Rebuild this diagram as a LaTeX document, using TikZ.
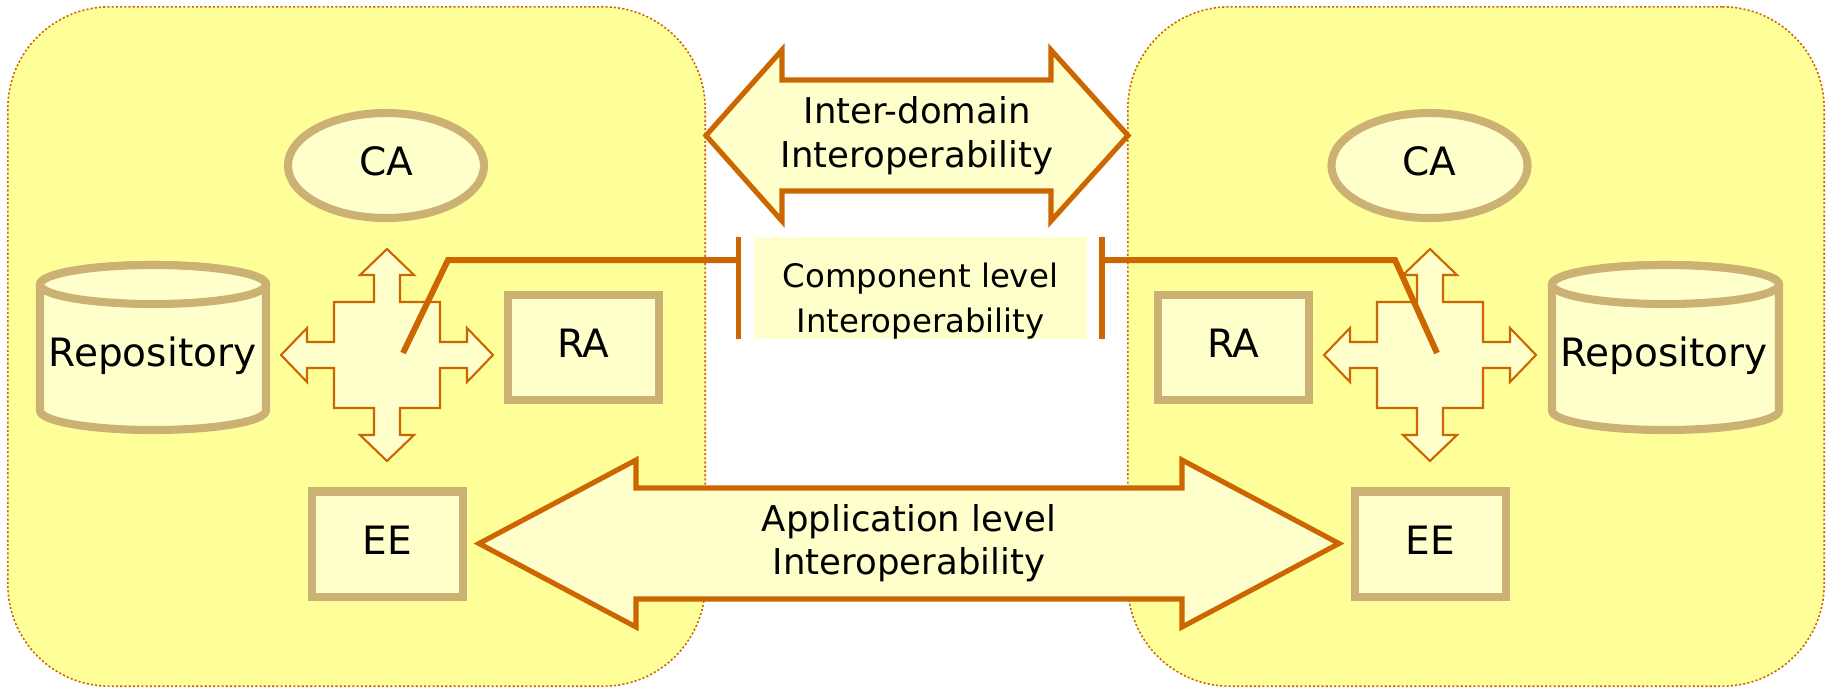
\documentclass[tikz,border=0pt]{standalone}
\usepackage{fontspec}
\setmainfont{DejaVu Sans}
\usetikzlibrary{shapes.geometric}
\definecolor{orng}{HTML}{CC6600}
\definecolor{tanb}{RGB}{204,177,116}
\definecolor{paleY}{HTML}{FFFFCC}
\definecolor{domY}{HTML}{FFFF99}
\newcommand{\fourway}[1]{%
  \begin{scope}[shift={#1}]
    \draw[crossarrow] (0,-106) -- (27,-80) -- (13,-80) -- (13,-53) -- (53,-53) -- (53,-13)
      -- (80,-13) -- (80,-27) -- (106,0) -- (80,27) -- (80,13) -- (53,13) -- (53,53)
      -- (13,53) -- (13,80) -- (27,80) -- (0,106) -- (-27,80) -- (-13,80) -- (-13,53)
      -- (-53,53) -- (-53,13) -- (-80,13) -- (-80,27) -- (-106,0) -- (-80,-27) -- (-80,-13)
      -- (-53,-13) -- (-53,-53) -- (-13,-53) -- (-13,-80) -- (-27,-80) -- cycle;
  \end{scope}}
\newcommand{\repocyl}[2]{% center x, x radius (px)
  \draw[cyl] (#1-#2,284.5) -- (#1-#2,410.5)
    arc[start angle=180, end angle=360, x radius=#2*0.01cm, y radius=0.195cm]
    -- (#1+#2,284.5)
    arc[start angle=0, end angle=180, x radius=#2*0.01cm, y radius=0.195cm] -- cycle;
  \draw[cyl] (#1,284.5) ellipse [x radius=#2*0.01cm, y radius=0.195cm];}
\begin{document}
\begin{tikzpicture}[x=0.01cm,y=-0.01cm,
  bigfont/.style={font=\fontsize{11.1pt}{13pt}\selectfont},
  domainbox/.style={rectangle, fill=domY, draw=orng, line width=0.45pt,
    dash pattern=on 0.6pt off 0.6pt, rounded corners=29pt, inner sep=0pt},
  tanbox/.style={rectangle, draw=tanb, fill=paleY, line width=2.3pt,
    minimum width=1.51cm, minimum height=1.05cm, inner sep=0pt, text depth=0.08cm, bigfont},
  tanell/.style={ellipse, draw=tanb, fill=paleY, line width=2.3pt,
    minimum width=1.96cm, minimum height=1.05cm, inner sep=0pt, text depth=0.08cm, bigfont},
  cyl/.style={draw=tanb, fill=paleY, line width=2.3pt},
  bigarrow/.style={draw=orng, fill=paleY, line width=1.45pt},
  crossarrow/.style={draw=orng, fill=paleY, line width=0.6pt},
  link/.style={draw=orng, line width=1.7pt},
  lbl/.style={align=center, inner sep=0pt}
]
\useasboundingbox (0,0) rectangle (1830,687);

% domains
\node[domainbox, minimum width=6.97cm, minimum height=6.79cm] (ldom) at (356.5,346.5) {};
\node[domainbox, minimum width=6.96cm, minimum height=6.79cm] (rdom) at (1476,346.5) {};

% repositories
\repocyl{153}{113}
\node[bigfont, anchor=base, inner sep=0pt] (lrepo) at (152.5,366) {Repository};
\repocyl{1665.5}{113.5}
\node[bigfont, anchor=base, inner sep=0pt] (rrepo) at (1664,366) {Repository};

% CA / RA / EE
\node[tanell] (lca) at (386,165.5) {CA};
\node[tanell] (rca) at (1429.5,165.5) {CA};
\node[tanbox] (lra) at (583.5,347.5) {RA};
\node[tanbox] (rra) at (1233.5,347.5) {RA};
\node[tanbox] (lee) at (387.5,544) {EE};
\node[tanbox] (ree) at (1430.5,544) {EE};

% four-way arrows
\fourway{(387,355)}
\fourway{(1430,355)}

% component level
\node[rectangle, fill=paleY, minimum width=3.33cm, minimum height=1.02cm, inner sep=0pt] (comp) at (920.5,288) {};
\node[lbl, font=\fontsize{9.2pt}{12.8pt}\selectfont] (comptext) at (920.5,301) {Component level\\Interoperability};

\coordinate (lbarT) at (738.5,237);
\coordinate (lbarB) at (738.5,339);
\coordinate (lj) at (738.5,260);
\coordinate (lk) at (448,260);
\coordinate (lend) at (403,353);
\coordinate (rbarT) at (1101.5,237);
\coordinate (rbarB) at (1101.5,339);
\coordinate (rj) at (1101.5,260);
\coordinate (rk) at (1395,260);
\coordinate (rend) at (1437,353);
\draw[link] (lbarT) -- (lbarB);
\draw[link] (rbarT) -- (rbarB);
\draw[link] (lj) -- (lk) -- (lend);
\draw[link] (rj) -- (rk) -- (rend);

% inter-domain arrow
\draw[bigarrow] (706,135.5) -- (782,50) -- (782,80) -- (1051,80) -- (1051,50) -- (1128,135.5)
  -- (1051,221) -- (1051,191) -- (782,191) -- (782,221) -- cycle;
\node[lbl, font=\fontsize{10.1pt}{12.5pt}\selectfont] (idtext) at (917,135.4) {Inter-domain\\Interoperability};

% application arrow
\draw[bigarrow] (479,543.5) -- (636,460) -- (636,488) -- (1182,488) -- (1182,460) -- (1339,543.5)
  -- (1182,627) -- (1182,599) -- (636,599) -- (636,627) -- cycle;
\node[lbl, font=\fontsize{10.1pt}{12.3pt}\selectfont] (apptext) at (909,543) {Application level\\Interoperability};
\end{tikzpicture}
\end{document}
